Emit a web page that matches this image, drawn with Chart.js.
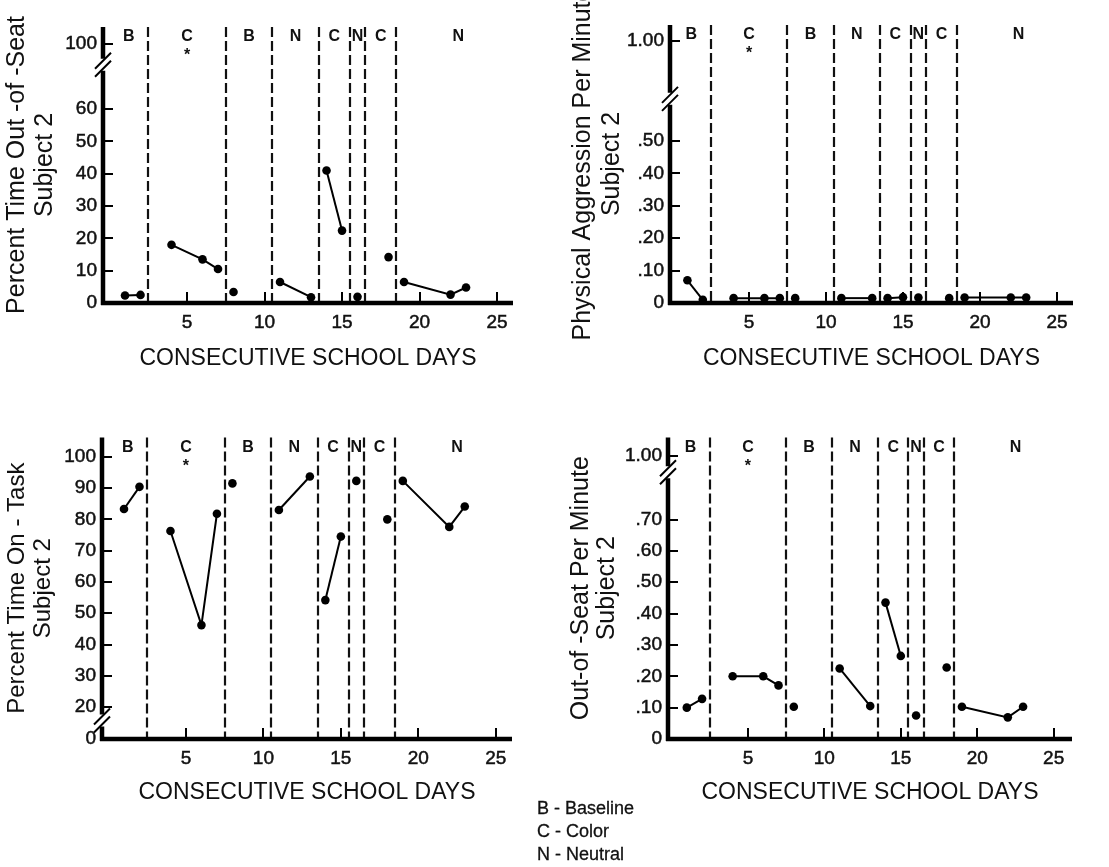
<!DOCTYPE html>
<html>
<head>
<meta charset="utf-8">
<script src="https://cdn.jsdelivr.net/npm/chart.js@4.4.1/dist/chart.umd.min.js"></script>
<style>
  html, body { margin: 0; padding: 0; background: #fff; }
  body { width: 1109px; height: 867px; position: relative; overflow: hidden; font-family: "Liberation Sans", Arial, sans-serif; }
  .panel { position: absolute; }
  #legend { position: absolute; left: 537px; top: 797px; font-size: 18px; line-height: 23px; color: #111; -webkit-text-stroke: 0.3px #111; }
</style>
</head>
<body>
<div class="panel" style="left:0;top:0"><canvas id="c1" width="540" height="380"></canvas></div>
<div class="panel" style="left:560px;top:0"><canvas id="c2" width="549" height="380"></canvas></div>
<div class="panel" style="left:0;top:420px"><canvas id="c3" width="540" height="447"></canvas></div>
<div class="panel" style="left:560px;top:420px"><canvas id="c4" width="549" height="447"></canvas></div>
<div id="legend">B - Baseline<br>C - Color<br>N - Neutral</div>
<script>
// observed school days (same for all four measures)
const days = [1, 2, 4, 6, 7, 8, 11, 13, 14, 15, 16, 18, 19, 22, 23];

const outOfSeatPct = [2.3, 2.5, 18, 13.5, 10.5, 3.4, 6.5, 1.8, 41, 22.4, 1.9, 14.2, 6.5, 2.6, 4.8];
const aggressionRate = [0.07, 0.01, 0.015, 0.015, 0.015, 0.015, 0.015, 0.015, 0.015, 0.018, 0.017, 0.015, 0.017, 0.017, 0.017];
const onTaskPct = [83.3, 90.4, 76.3, 46.2, 81.8, 91.5, 83, 93.7, 54.2, 74.5, 92.3, 80, 92.3, 77.6, 84.1];
const outOfSeatRate = [0.10, 0.128, 0.20, 0.20, 0.171, 0.103, 0.225, 0.105, 0.435, 0.265, 0.075, 0.228, 0.103, 0.069, 0.103];

// phase changes fall between these days
const phaseEnds = [2.5, 7.5, 10.5, 13.5, 15.5, 16.5, 18.5];
const phaseNames = ['B', 'C', 'B', 'N', 'C', 'N', 'C', 'N'];
const dayTicks = [5, 10, 15, 20, 25];

const pctOutTicks = [0, 10, 20, 30, 40, 50, 60];
const pctOutLabels = ['0', '10', '20', '30', '40', '50', '60'];
const aggrTicks = [0, 0.1, 0.2, 0.3, 0.4, 0.5];
const aggrLabels = ['0', '.10', '.20', '.30', '.40', '.50'];
const onTaskTicks = [20, 30, 40, 50, 60, 70, 80, 90, 100];
const onTaskLabels = ['20', '30', '40', '50', '60', '70', '80', '90', '100'];
const rateTicks = [0, 0.1, 0.2, 0.3, 0.4, 0.5, 0.6, 0.7];
const rateLabels = ['0', '.10', '.20', '.30', '.40', '.50', '.60', '.70'];

const INK = '#111';
const FONT = '"Liberation Sans", Arial, sans-serif';

const panels = [
  { id: 'c1', values: outOfSeatPct, ticks: pctOutTicks, labels: pctOutLabels,
    breakLabel: '100', breakLabelAt: 80.2, breakAt: 73.7,
    xMin: -0.42, xMax: 26.03, yMin: 0, yMax: 85.4,
    pad: { left: 0, top: 27, right: 27, bottom: 0 }, yWidth: 103, xHeight: 77, xTitlePad: 8,
    yTitle: ['Percent Time Out -of -Seat', 'Subject 2'], yTitleSize: 25, yLine: 28, yPad: 3 },
  { id: 'c2', values: aggressionRate, ticks: aggrTicks, labels: aggrLabels,
    breakLabel: '1.00', breakLabelAt: 0.809, breakAt: 0.63,
    xMin: -0.13, xMax: 26.04, yMin: 0, yMax: 0.858,
    pad: { left: 0, top: 25, right: 36, bottom: 0 }, yWidth: 110, xHeight: 77, xTitlePad: 8,
    yTitle: ['Physical Aggression Per Minute', 'Subject 2'], yTitleSize: 25, yLine: 29, yPad: 9 },
  { id: 'c3', values: onTaskPct, ticks: onTaskTicks, labels: onTaskLabels,
    breakLabel: '0', breakLabelAt: 9.8, breakAt: 15.7,
    xMin: -0.42, xMax: 26.05, yMin: 9.8, yMax: 106.2,
    pad: { left: 0, top: 8, right: 28, bottom: 0 }, yWidth: 102, xHeight: 128, xTitlePad: 61,
    yTitle: ['Percent Time On - Task', 'Subject 2'], yTitleSize: 24, yLine: 26, yPad: 4 },
  { id: 'c4', values: outOfSeatRate, ticks: rateTicks, labels: rateLabels,
    breakLabel: '1.00', breakLabelAt: 0.9035, breakAt: 0.851,
    xMin: -0.23, xMax: 26.2, yMin: 0, yMax: 0.962,
    pad: { left: 0, top: 7, right: 37, bottom: 0 }, yWidth: 108, xHeight: 128, xTitlePad: 61,
    yTitle: ['Out-of -Seat Per Minute', 'Subject 2'], yTitleSize: 25, yLine: 26, yPad: 8 }
];

function crossesPhase(a, b) {
  return phaseEnds.some(e => (a - e) * (b - e) < 0);
}

function frame(p) {
  return {
    id: 'frame',
    beforeDatasetsDraw(chart) {
      const { ctx, chartArea: a, scales: { x } } = chart;
      ctx.save();
      ctx.strokeStyle = INK;
      ctx.lineWidth = 2.2;
      ctx.setLineDash([10, 4]);
      phaseEnds.forEach(e => {
        const px = Math.round(x.getPixelForValue(e));
        ctx.beginPath();
        ctx.moveTo(px, a.top);
        ctx.lineTo(px, a.bottom);
        ctx.stroke();
      });
      ctx.restore();
    },
    afterDatasetsDraw(chart) {
      const { ctx, chartArea: a, scales: { x, y } } = chart;
      const ax = a.left, by = a.bottom, cy = y.getPixelForValue(p.breakAt);
      ctx.save();
      ctx.strokeStyle = '#000';
      ctx.lineWidth = 4.5;
      ctx.beginPath();
      ctx.moveTo(ax, a.top); ctx.lineTo(ax, cy - 6);
      ctx.moveTo(ax, cy + 6); ctx.lineTo(ax, by + 2);
      ctx.moveTo(ax - 2, by); ctx.lineTo(a.right, by);
      ctx.stroke();

      // axis break
      ctx.lineWidth = 2;
      ctx.beginPath();
      [-4, 4].forEach(d => {
        ctx.moveTo(ax - 8, cy + d + 8);
        ctx.lineTo(ax + 8, cy + d - 8);
      });
      ctx.stroke();

      // inward tick marks
      ctx.lineWidth = 2;
      ctx.beginPath();
      [...p.ticks, p.breakLabelAt].filter(v => v > p.yMin).forEach(v => {
        const py = Math.round(y.getPixelForValue(v));
        ctx.moveTo(ax, py); ctx.lineTo(ax + 10, py);
      });
      dayTicks.forEach(d => {
        const px = Math.round(x.getPixelForValue(d));
        ctx.moveTo(px, by); ctx.lineTo(px, by - 11);
      });
      ctx.stroke();

      // phase letters
      const edges = [0, ...phaseEnds, 26.5];
      ctx.fillStyle = INK;
      ctx.font = 'bold 16px ' + FONT;
      ctx.textAlign = 'center';
      ctx.textBaseline = 'middle';
      phaseNames.forEach((n, i) => {
        const px = x.getPixelForValue((edges[i] + edges[i + 1]) / 2);
        ctx.fillText(n, px, a.top + 10);
        if (i === 1) ctx.fillText('*', px, a.top + 29);
      });
      ctx.restore();
    }
  };
}

panels.forEach(p => {
  const yVals = p.breakLabelAt > p.yMin ? [...p.ticks, p.breakLabelAt] : [p.breakLabelAt, ...p.ticks];
  const yLabs = p.breakLabelAt > p.yMin ? [...p.labels, p.breakLabel] : [p.breakLabel, ...p.labels];

  new Chart(document.getElementById(p.id), {
    type: 'line',
    data: {
      datasets: [{
        data: days.map((d, i) => ({ x: d, y: p.values[i] })),
        borderColor: '#000',
        borderWidth: 2,
        pointRadius: 4.3,
        pointBackgroundColor: '#000',
        pointBorderWidth: 0,
        tension: 0,
        clip: false,
        segment: {
          borderColor: ctx => crossesPhase(ctx.p0.parsed.x, ctx.p1.parsed.x) ? 'rgba(0,0,0,0)' : '#000'
        }
      }]
    },
    options: {
      responsive: false,
      animation: false,
      events: [],
      layout: { padding: p.pad },
      plugins: { legend: { display: false }, tooltip: { enabled: false } },
      scales: {
        x: {
          type: 'linear', min: p.xMin, max: p.xMax,
          grid: { display: false, drawTicks: false },
          border: { display: false },
          afterBuildTicks: s => { s.ticks = dayTicks.map(v => ({ value: v })); },
          afterFit: s => { s.height = p.xHeight; },
          ticks: { color: INK, font: { family: FONT, size: 19 }, padding: 8, maxRotation: 0, autoSkip: false,
                   textStrokeColor: INK, textStrokeWidth: 0.5, callback: v => String(v) },
          title: { display: true, text: 'CONSECUTIVE SCHOOL DAYS', color: INK,
                   font: { family: FONT, size: 23 }, padding: { top: 0, bottom: p.xTitlePad } }
        },
        y: {
          type: 'linear', min: p.yMin, max: p.yMax,
          grid: { display: false, drawTicks: false },
          border: { display: false },
          afterBuildTicks: s => { s.ticks = yVals.map(v => ({ value: v })); },
          afterFit: s => { s.width = p.yWidth; },
          ticks: { color: INK, font: { family: FONT, size: 19 }, padding: 6, autoSkip: false,
                   textStrokeColor: INK, textStrokeWidth: 0.5, callback: (v, i) => yLabs[i] },
          title: { display: true, text: p.yTitle, color: INK,
                   font: { family: FONT, size: p.yTitleSize, lineHeight: p.yLine + 'px' },
                   padding: { top: p.yPad, bottom: 0 } }
        }
      }
    },
    plugins: [frame(p)]
  });
});
</script>
</body>
</html>
